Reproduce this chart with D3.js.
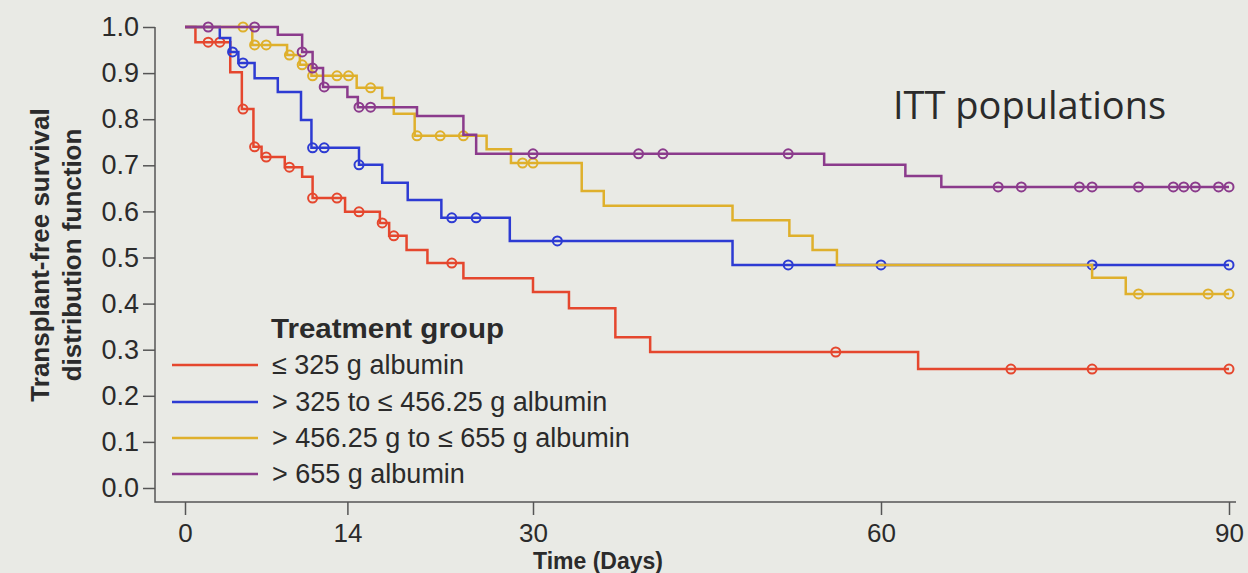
<!DOCTYPE html>
<html>
<head>
<meta charset="utf-8">
<script src="https://cdn.jsdelivr.net/npm/d3@7"></script>
<style>
  body { margin: 0; background: #e9eae5; }
  svg { display: block; }
  text { font-family: "Liberation Sans", Arial, sans-serif; fill: #2b2b2b; }
</style>
</head>
<body>
<div id="chart"></div>
<script>
// step times (days) and survival levels, one pair per group
var redTimes = [0, 0.9, 3.9, 4.9, 5.9, 6.6, 8.6, 10.1, 11.0, 13.8, 16.8, 17.6, 19.1, 20.9, 24.0, 30.0, 33.1, 37.1, 40.1, 63.2];
var redSurv  = [1.0, 0.967, 0.902, 0.822, 0.740, 0.718, 0.696, 0.675, 0.629, 0.599, 0.575, 0.547, 0.516, 0.488, 0.455, 0.425, 0.390, 0.327, 0.295, 0.258];
var redCensor = [2, 3, 5, 6, 7, 9, 11, 13.1, 15, 17, 18, 23, 56.1, 71.2, 78.2, 90];

var blueTimes = [0, 3.0, 3.9, 4.6, 6.0, 8.0, 10.0, 10.9, 15.0, 17.0, 19.2, 22.1, 28.0, 47.2];
var blueSurv  = [1.0, 0.976, 0.946, 0.922, 0.889, 0.859, 0.798, 0.738, 0.701, 0.662, 0.625, 0.586, 0.536, 0.484];
var blueCensor = [4.1, 5.0, 11.0, 12.0, 15.0, 23.0, 25.1, 32.1, 52.0, 60.0, 78.2, 90];

var yellowTimes = [0, 5.8, 8.8, 9.9, 10.9, 14.8, 17.0, 18.0, 19.8, 26.0, 28.1, 34.2, 36.1, 47.2, 52.1, 54.1, 56.2, 78.2, 81.1];
var yellowSurv  = [1.0, 0.961, 0.939, 0.918, 0.894, 0.868, 0.846, 0.812, 0.764, 0.735, 0.705, 0.644, 0.612, 0.581, 0.547, 0.516, 0.484, 0.456, 0.421];
var yellowCensor = [5.0, 6.0, 7.0, 9.0, 10.1, 11.0, 13.1, 14.1, 16.0, 20.0, 22.0, 24.0, 29.1, 30.0, 82.2, 88.2, 90];

var purpleTimes = [0, 8.0, 10.1, 11.0, 11.9, 14.0, 14.9, 20.0, 24.0, 25.1, 55.1, 62.1, 65.2];
var purpleSurv  = [1.0, 0.983, 0.946, 0.911, 0.870, 0.848, 0.826, 0.807, 0.766, 0.725, 0.701, 0.677, 0.653];
var purpleCensor = [2.0, 6.0, 10.1, 11.0, 12.0, 15.0, 16.0, 30.0, 39.1, 41.2, 52.0, 70.1, 72.1, 77.1, 78.2, 82.2, 85.2, 86.1, 87.1, 89.1, 90];

var groupNames = ["\u2264 325 g albumin", "> 325 to \u2264 456.25 g albumin", "> 456.25 g to \u2264 655 g albumin", "> 655 g albumin"];
var groupColors = ["#e5472e", "#2d3bd3", "#dfb02c", "#8b3b8c"];
var xTicks = [0, 14, 30, 60, 90];
var yTicks = [0, 0.1, 0.2, 0.3, 0.4, 0.5, 0.6, 0.7, 0.8, 0.9, 1.0];

var groups = [
  {times: redTimes, surv: redSurv, censor: redCensor},
  {times: blueTimes, surv: blueSurv, censor: blueCensor},
  {times: yellowTimes, surv: yellowSurv, censor: yellowCensor},
  {times: purpleTimes, surv: purpleSurv, censor: purpleCensor}
];

var width = 1248, height = 573;

var svg = d3.select("#chart").append("svg")
            .attr("width", width)
            .attr("height", height);

var x = d3.scaleLinear().domain([0, 90]).range([185, 1229]);
var y = d3.scaleLinear().domain([0, 1]).range([488, 27]);

// y axis
var yAxis = svg.append("g")
   .attr("transform", "translate(155,0)")
   .call(d3.axisLeft(y).tickValues(yTicks).tickFormat(d3.format(".1f")).tickSize(12).tickSizeOuter(0));
yAxis.select(".domain").remove();
yAxis.selectAll("line").attr("stroke", "#555").attr("stroke-width", 1.5);
yAxis.selectAll("text").attr("x", -16).style("font-size", "27px").style("font-family", "Liberation Sans, Arial, sans-serif").attr("fill", "#333");

// x axis
var xAxis = svg.append("g")
   .attr("transform", "translate(0,502)")
   .call(d3.axisBottom(x).tickValues(xTicks).tickSize(13).tickSizeOuter(0));
xAxis.select(".domain").remove();
xAxis.selectAll("line").attr("stroke", "#555").attr("stroke-width", 1.5);
xAxis.selectAll("text").attr("y", 22).style("font-size", "26px").style("font-family", "Liberation Sans, Arial, sans-serif").attr("fill", "#333");

// L-shaped frame
svg.append("path")
   .attr("d", "M155," + y(1) + "V502H1236")
   .attr("fill", "none")
   .attr("stroke", "#555")
   .attr("stroke-width", 1.5);

// curves
var stepLine = d3.line()
                 .x(function(d){ return x(d[0]); })
                 .y(function(d){ return y(d[1]); })
                 .curve(d3.curveStepAfter);

function levelAt(g, t) {
  var i = d3.bisectRight(g.times, t) - 1;
  return g.surv[Math.max(i, 0)];
}

groups.forEach(function(g, k){
  var pts = g.times.map(function(t, i){ return [t, g.surv[i]]; });
  pts.push([90, g.surv[g.surv.length - 1]]);
  svg.append("path")
     .attr("d", stepLine(pts))
     .attr("fill", "none")
     .attr("stroke", groupColors[k])
     .attr("stroke-width", 2.5);
  svg.selectAll(".c" + k)
     .data(g.censor)
     .enter().append("circle")
     .attr("class", "c" + k)
     .attr("cx", function(d){ return x(d); })
     .attr("cy", function(d){ return y(levelAt(g, d)); })
     .attr("r", 4.5)
     .attr("fill", "none")
     .attr("stroke", groupColors[k])
     .attr("stroke-width", 2);
});

// legend
svg.append("text")
   .attr("x", 271).attr("y", 338)
   .style("font-size", "28px").style("font-weight", "bold")
   .attr("textLength", 233).attr("lengthAdjust", "spacingAndGlyphs")
   .text("Treatment group");

var legendY = [365, 402, 438, 474];
groupNames.forEach(function(name, k){
  svg.append("line")
     .attr("x1", 172).attr("x2", 258)
     .attr("y1", legendY[k]).attr("y2", legendY[k])
     .attr("stroke", groupColors[k])
     .attr("stroke-width", 2.5);
  svg.append("text")
     .attr("x", 272).attr("y", legendY[k])
     .attr("dy", "0.35em")
     .style("font-size", "27px")
     .text(name);
});

// axis titles
svg.append("text")
   .attr("transform", "translate(49,255) rotate(-90)")
   .attr("text-anchor", "middle")
   .style("font-size", "26px").style("font-weight", "bold")
   .text("Transplant-free survival");
svg.append("text")
   .attr("transform", "translate(81,255) rotate(-90)")
   .attr("text-anchor", "middle")
   .style("font-size", "26px").style("font-weight", "bold")
   .text("distribution function");

svg.append("text")
   .attr("x", 598).attr("y", 569)
   .attr("text-anchor", "middle")
   .style("font-size", "23px").style("font-weight", "bold")
   .text("Time (Days)");

svg.append("text")
   .attr("x", 893).attr("y", 119)
   .style("font-size", "38px")
   .style("font-family", "Open Sans, sans-serif")
   .attr("fill", "#333")
   .text("ITT populations");
</script>
</body>
</html>
